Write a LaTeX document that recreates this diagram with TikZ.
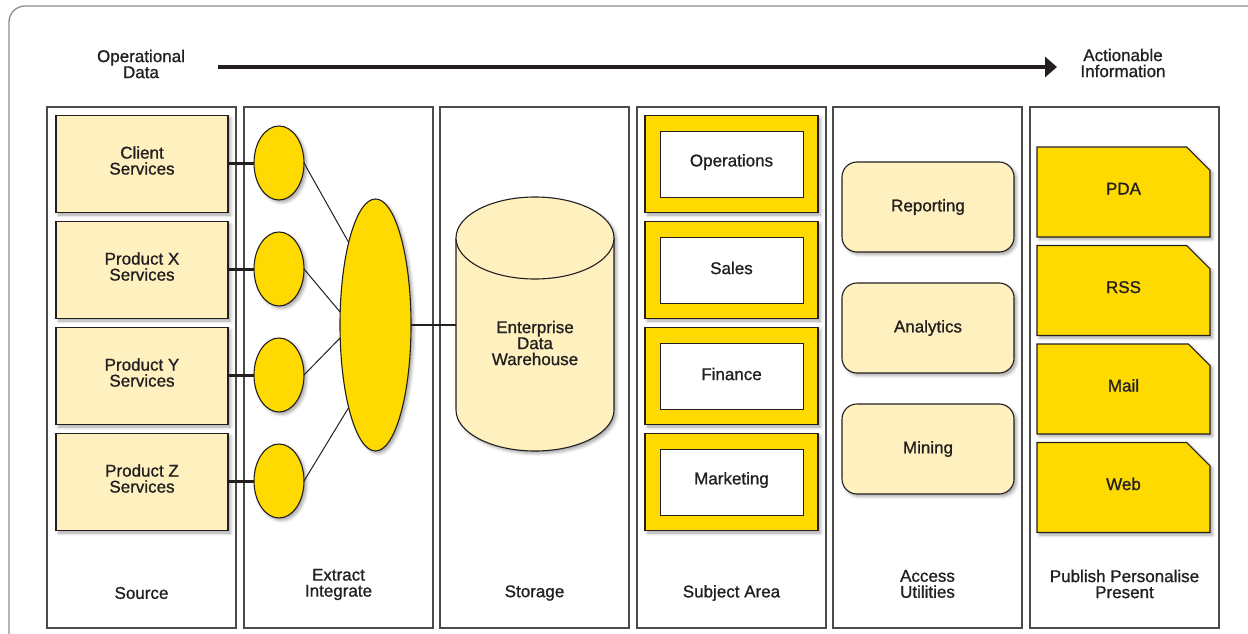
\documentclass[tikz,border=0pt]{standalone}
\usepackage{fontspec}
\setmainfont{Liberation Sans}[FakeBold=1.0]
\usetikzlibrary{arrows.meta,shapes.geometric,shapes.misc,shadows.blur}

\definecolor{ink}{HTML}{231F20}
\definecolor{gold}{HTML}{FFDA00}
\definecolor{cream}{HTML}{FEF1BF}
\definecolor{colline}{HTML}{4A4A4A}
\definecolor{framegray}{HTML}{8C8C8C}

\newcommand{\lifted}[1]{\raisebox{3.5pt}{#1}}

\begin{document}
\begin{tikzpicture}[x=1pt,y=-1pt,
  every node/.style={font=\fontsize{17}{16}\selectfont, text=ink, align=center,
                     inner sep=0pt, outer sep=0pt},
  softshadow/.style={blur shadow={shadow xshift=2.5pt, shadow yshift=-2.5pt,
                     shadow blur radius=3pt, shadow opacity=35}},
  % box text sits a little above the box centre
  boxtext/.style n args={2}{label={[yshift=#1]center:{#2}}},
  column/.style={draw=colline, line width=1.3pt, minimum width=189pt, minimum height=521pt},
  srcbox/.style={draw=ink, line width=1.1pt, fill=cream, softshadow,
                 minimum width=172pt, minimum height=97pt, boxtext={3.5pt}{#1}},
  exnode/.style={ellipse, draw=ink, line width=1.1pt, fill=gold, softshadow,
               minimum width=50pt, minimum height=74pt},
  hub/.style={ellipse, draw=ink, line width=1.1pt, fill=gold, softshadow,
              minimum width=71pt, minimum height=252pt},
  subjouter/.style={draw=ink, line width=1.1pt, fill=gold, softshadow,
                    minimum width=173pt, minimum height=97pt},
  subjinner/.style={draw=ink, line width=1pt, fill=white,
                    minimum width=143pt, minimum height=66pt, boxtext={2pt}{#1}},
  accbox/.style={draw=ink, line width=1.1pt, fill=cream, rounded corners=15pt, softshadow,
                 minimum width=172pt, minimum height=90pt},
  pubbox/.style={chamfered rectangle, chamfered rectangle corners=north east,
                 chamfered rectangle xsep=31pt, chamfered rectangle ysep=28pt,
                 draw=ink, line width=1.1pt, fill=gold, softshadow,
                 text height=12pt, text depth=0pt,
                 minimum width=173pt, minimum height=90pt},
  feed/.style={draw=ink, line width=3pt},
  spoke/.style={draw=ink, line width=1pt},
]
\useasboundingbox (0,0) rectangle (1248,634);

% outer frame, running off the right and bottom edges
\draw[framegray, line width=1.3pt, rounded corners=16pt] (9,660) |- (1280,6);

% flow arrow
\node (opdata) at (141,64) {Operational\\Data};
\node (actinfo) at (1123,63) {Actionable\\Information};
\coordinate (flowstart) at (218,67);
\coordinate (flowend) at (1057,67);
\draw[ink, line width=4pt, -{Triangle[length=12pt,width=20pt]}] (flowstart) -- (flowend);

% columns
\node[column] (colsrc) at (141.5,367.5) {};
\node[column] (colext) at (338.5,367.5) {};
\node[column] (colsto) at (534.5,367.5) {};
\node[column] (colsub) at (731.5,367.5) {};
\node[column] (colacc) at (927.5,367.5) {};
\node[column] (colpub) at (1124.5,367.5) {};

\node (lblsrc) at (141.5,593) {Source};
\node (lblext) at (338.5,584.5) {Extract\\Integrate};
\node (lblsto) at (534.5,593) {Storage};
\node (lblsub) at (731.5,593) {Subject Area};
\node (lblacc) at (927.5,584) {Access\\Utilities};
\node (lblpub) at (1124.5,584) {Publish Personalise\\Present};

% source systems
\node[srcbox={Client\\Services}] (client) at (142,164) {};
\node[srcbox={Product X\\Services}] (prodx) at (142,270) {};
\node[srcbox={Product Y\\Services}] (prody) at (142,376) {};
\node[srcbox={Product Z\\Services}] (prodz) at (142,482) {};

% extraction nodes and integration hub
\node[exnode] (ex1) at (279,163) {};
\node[exnode] (ex2) at (279,269) {};
\node[exnode] (ex3) at (279,375) {};
\node[exnode] (ex4) at (279,481) {};
\node[hub] (hub) at (375.5,325) {};

\draw[feed] (client.east |- ex1) -- (ex1.west);
\draw[feed] (prodx.east |- ex2) -- (ex2.west);
\draw[feed] (prody.east |- ex3) -- (ex3.west);
\draw[feed] (prodz.east |- ex4) -- (ex4.west);

\draw[spoke] (ex1.east) -- (hub.108);
\draw[spoke] (ex2.east) -- (hub.160);
\draw[spoke] (ex3.east) -- (hub.200);
\draw[spoke] (ex4.east) -- (hub.252);

% data warehouse cylinder
\fill[cream, softshadow] (456,238) -- (456,410)
  arc[start angle=180, end angle=360, x radius=79pt, y radius=41pt]
  -- (614,238)
  arc[start angle=0, end angle=180, x radius=79pt, y radius=41pt] -- cycle;
\draw[ink, line width=1.1pt] (456,238) -- (456,410)
  arc[start angle=180, end angle=360, x radius=79pt, y radius=41pt]
  -- (614,238);
\draw[ink, line width=1.1pt, fill=cream] (535,238) ellipse[x radius=79pt, y radius=41pt];
\node[minimum width=158pt, minimum height=254pt] (edw) at (535,325) {};
\node (edwtext) at (535,343) {Enterprise\\Data\\Warehouse};

\draw[ink, line width=2.5pt] (hub.east) -- (edw.west);

% subject areas
\foreach \nm/\txt/\yy in {ops/Operations/164, sales/Sales/270, fin/Finance/376, mkt/Marketing/482}{
  \node[subjouter] (sub\nm) at (731.5,\yy) {};
  \node[subjinner=\txt] (\nm) at (731.5,\yy) {};
}

% access utilities
\node[accbox] (rep) at (928,207) {Reporting};
\node[accbox] (ana) at (928,328) {Analytics};
\node[accbox] (min) at (928,449) {Mining};

% publishing channels
\node[pubbox] (pda) at (1123.5,192) {\lifted{PDA}};
\node[pubbox] (rss) at (1123.5,290.5) {\lifted{RSS}};
\node[pubbox] (mail) at (1123.5,389) {\lifted{Mail}};
\node[pubbox] (web) at (1123.5,487.5) {\lifted{Web}};
\end{tikzpicture}
\end{document}
